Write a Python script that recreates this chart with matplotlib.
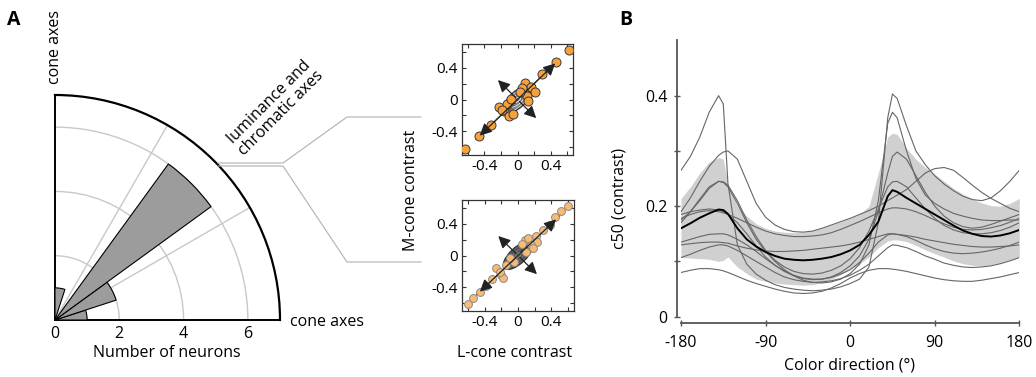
import numpy as np
import matplotlib
matplotlib.use('Agg')
import matplotlib.pyplot as plt
from matplotlib.lines import Line2D
from matplotlib.patches import Ellipse

plt.rcParams['font.family'] = ['Open Sans', 'DejaVu Sans']
plt.rcParams['axes.unicode_minus'] = False

W, H = 1036, 377

# polar histogram: preferred direction of neurons (18 deg bins)
bin_centers = [9, 27, 45, 63, 81]
neuron_counts = [1, 2, 6, 0, 1]
r_ticks = [0, 2, 4, 6]

# scatter insets (L-cone, M-cone contrast)
l_top = [0.62, 0.46, 0.30, 0.09, 0.16, 0.21, -0.22, -0.16, -0.10, -0.05, -0.32, -0.47, -0.63,
         0.05, 0.12, -0.13, 0.13, -0.19, -0.08, 0.03]
m_top = [0.63, 0.47, 0.32, 0.21, 0.16, 0.10, -0.09, -0.15, -0.21, -0.18, -0.32, -0.46, -0.63,
         0.15, 0.05, -0.06, -0.02, -0.13, 0.01, 0.10]
l_bot = [0.60, 0.52, 0.44, 0.38, 0.30, 0.22, 0.23, 0.15, 0.08, -0.20, -0.18, -0.26, -0.31, -0.38,
         -0.46, -0.54, -0.60, 0.12, -0.14, -0.22, 0.05, -0.05, 0.18, -0.10, 0.10]
m_bot = [0.63, 0.56, 0.48, 0.39, 0.32, 0.24, 0.17, 0.13, 0.20, -0.24, -0.29, -0.16, -0.30, -0.38,
         -0.46, -0.53, -0.61, 0.22, -0.12, -0.21, 0.15, -0.08, 0.10, -0.03, 0.05]

# panel B: c50 vs color direction
direction = [-180, -170, -160, -150, -140, -135, -130, -120, -110, -100, -90, -80, -70, -60, -50,
             -40, -30, -20, -10, 0, 10, 20, 30, 40, 45, 50, 60, 70, 80, 90, 100, 110, 120, 130,
             140, 150, 160, 170, 180]
c50_mean = [.160, .169, .179, .187, .194, .193, .186, .160, .140, .127, .117, .110, .105, .103, .102,
            .103, .105, .108, .113, .120, .130, .148, .172, .218, .229, .226, .215, .205, .195, .185,
            .175, .165, .156, .150, .146, .145, .147, .151, .157]
c50_upper = [.214, .235, .260, .280, .288, .285, .240, .200, .182, .168, .160, .155, .153, .152, .153,
             .156, .160, .166, .172, .178, .185, .200, .260, .325, .332, .330, .305, .285, .270, .258,
             .245, .232, .222, .213, .206, .201, .200, .205, .214]
c50_lower = [.107, .106, .105, .104, .100, .102, .108, .090, .078, .068, .064, .061, .059, .058, .057,
             .058, .062, .068, .076, .086, .096, .108, .125, .137, .139, .139, .136, .129, .121, .114,
             .108, .101, .096, .093, .092, .094, .098, .103, .108]
c50_cells = [
    [.265, .290, .325, .370, .400, .385, .240, .130, .095, .077, .066, .058, .053, .050, .048,
     .047, .048, .050, .054, .060, .068, .090, .170, .360, .403, .395, .345, .300, .275, .255,
     .240, .228, .218, .212, .210, .215, .228, .245, .265],
    [.190, .215, .245, .272, .292, .298, .300, .285, .245, .205, .180, .166, .158, .154, .153,
     .155, .160, .166, .172, .178, .185, .192, .200, .210, .215, .220, .230, .245, .260, .268,
     .270, .265, .252, .238, .225, .214, .205, .196, .190],
    [.175, .190, .210, .232, .245, .243, .235, .205, .170, .140, .118, .100, .085, .074, .066,
     .062, .061, .063, .068, .078, .095, .130, .210, .350, .370, .360, .300, .250, .220, .205,
     .195, .187, .182, .178, .175, .174, .174, .175, .175],
    [.185, .190, .193, .195, .193, .190, .185, .170, .150, .128, .108, .093, .082, .074, .069,
     .067, .068, .072, .080, .092, .110, .140, .190, .260, .290, .298, .285, .255, .225, .200,
     .182, .170, .163, .160, .162, .167, .173, .179, .185],
    [.170, .190, .213, .235, .245, .244, .238, .210, .175, .145, .120, .102, .090, .082, .078,
     .077, .079, .084, .092, .105, .125, .155, .195, .235, .244, .245, .235, .215, .195, .178,
     .165, .157, .152, .150, .150, .152, .156, .162, .170],
    [.135, .140, .145, .149, .150, .150, .148, .140, .130, .118, .105, .093, .083, .075, .070,
     .068, .068, .071, .077, .085, .098, .115, .135, .148, .150, .149, .145, .138, .130, .123,
     .118, .115, .114, .115, .117, .120, .124, .129, .135],
    [.178, .185, .190, .192, .190, .188, .185, .178, .170, .162, .155, .150, .147, .145, .145,
     .146, .148, .152, .158, .165, .172, .180, .188, .195, .197, .197, .195, .190, .183, .175,
     .168, .162, .158, .157, .158, .161, .165, .171, .178],
    [.130, .132, .134, .135, .135, .134, .133, .128, .124, .121, .119, .118, .118, .119, .120,
     .122, .124, .126, .128, .131, .135, .140, .145, .150, .150, .149, .147, .144, .140, .137,
     .134, .131, .129, .127, .126, .126, .127, .128, .130],
    [.107, .113, .120, .126, .130, .130, .128, .120, .110, .100, .090, .080, .072, .067, .064,
     .062, .063, .065, .069, .075, .084, .095, .110, .125, .130, .129, .125, .118, .110, .104,
     .097, .093, .090, .089, .090, .092, .096, .101, .107],
    [.080, .084, .087, .087, .085, .083, .080, .073, .066, .060, .055, .050, .046, .043, .042,
     .043, .046, .052, .060, .070, .078, .084, .087, .087, .086, .085, .082, .078, .074, .070,
     .067, .065, .064, .064, .066, .069, .072, .076, .080],
]

fig = plt.figure(figsize=(W / 100, H / 100), dpi=100)


def box(x0, y0, x1, y1):
    # pixel box (top-left origin) -> figure fraction rect
    return [x0 / W, 1 - y1 / H, (x1 - x0) / W, (y1 - y0) / H]


fs = 11.5
fs_tick = 11

# ---------- panel A: polar histogram ----------
axp = fig.add_axes(box(55, 95, 280, 320), projection='polar')
axp.set_thetamin(0)
axp.set_thetamax(90)
axp.set_rlim(0, 7)
axp.set_rticks([2, 4, 6])
axp.set_yticklabels([])
axp.set_thetagrids([30, 60], labels=['', ''])
axp.grid(True, color='#c8c8c8', lw=1.0)
axp.set_axisbelow(True)
axp.bar(np.deg2rad(bin_centers), neuron_counts, width=np.deg2rad(18), bottom=0,
        color='#9c9c9c', edgecolor='black', lw=0.8, zorder=3)
axp.spines['polar'].set_linewidth(1.6)
axp.spines['start'].set_linewidth(1.4)
axp.spines['end'].set_linewidth(1.4)
axp.tick_params(length=0, pad=0)
for r in r_ticks:
    axp.annotate(str(r), xy=(0, r), xytext=(0, -4), textcoords='offset points',
                 ha='center', va='top', fontsize=fs, annotation_clip=False)

fig.text(167 / W, 1 - 353 / H, 'Number of neurons', ha='center', va='center', fontsize=fs)
fig.text(290 / W, 1 - 322 / H, 'cone axes', ha='left', va='center', fontsize=fs)
fig.text(55 / W, 1 - 47 / H, 'cone axes', ha='center', va='center', rotation=90, fontsize=fs)
fig.text(275 / W, 1 - 108 / H, 'luminance and\nchromatic axes', ha='center', va='center',
         rotation=45, fontsize=fs, linespacing=1.0)
fig.text(14 / W, 1 - 20 / H, 'A', ha='center', va='center', fontsize=14, fontweight='bold')
fig.text(626 / W, 1 - 20 / H, 'B', ha='center', va='center', fontsize=14, fontweight='bold')

# connector lines from polar plot to insets
conn = '#b0b0b0'
fig.add_artist(Line2D([218 / W, 283 / W, 347 / W, 421 / W],
                      [1 - 163 / H, 1 - 163 / H, 1 - 117 / H, 1 - 117 / H], color=conn, lw=0.8))
fig.add_artist(Line2D([218 / W, 283 / W, 347 / W, 421 / W],
                      [1 - 166 / H, 1 - 166 / H, 1 - 262 / H, 1 - 262 / H], color=conn, lw=0.8))


# ---------- scatter insets ----------
def inset(rect, lx, my, face, edge, size, fill_col, ring_cols):
    ax = fig.add_axes(rect)
    ax.plot([-0.5, 0.5], [-0.5, 0.5], color='#333333', lw=0.8, zorder=1)
    ax.add_patch(Ellipse((0, 0), 0.46, 0.20, angle=45, fc=fill_col, ec='#333333', lw=0.8, zorder=2))
    for a, b, c in zip([0.39, 0.32, 0.25, 0.18, 0.10],
                       [0.165, 0.135, 0.105, 0.075, 0.045], ring_cols):
        ax.add_patch(Ellipse((0, 0), a, b, angle=45, fill=False, ec=c, lw=0.8, zorder=2))
    ax.scatter(lx, my, s=size, c=face, edgecolors=edge, linewidths=0.7, zorder=3)
    arr = dict(arrowstyle='-|>,head_length=0.6,head_width=0.3', color='#222222', lw=0.9,
               mutation_scale=12)
    for tip in [(0.48, 0.48), (-0.48, -0.48), (-0.26, 0.27), (0.25, -0.26)]:
        ax.annotate('', xy=tip, xytext=(0, 0), arrowprops=arr, zorder=4)
    ax.set_xlim(-0.67, 0.67)
    ax.set_ylim(-0.70, 0.70)
    ticks = [-0.6, -0.4, -0.2, 0, 0.2, 0.4, 0.6]
    labs = ['', '-0.4', '', '0', '', '0.4', '']
    ax.set_xticks(ticks)
    ax.set_yticks(ticks)
    ax.set_xticklabels(labs)
    ax.set_yticklabels(labs)
    ax.tick_params(direction='in', length=3, width=0.8, top=True, right=True,
                   labelsize=fs_tick, pad=3, color='#333333')
    for s in ax.spines.values():
        s.set_color('#333333')
        s.set_linewidth(0.9)
    return ax


inset(box(462, 44, 573, 155), l_top, m_top, '#f6a13c', '#3a3a3a', 42, '#3c3c3c',
      ['#d8d8d8', '#9a9a9a', '#e6e6e6', '#8c8c8c', '#f0f0f0'])
inset(box(462, 200, 574, 311), l_bot, m_bot, '#f9bb74', '#8a8a8a', 32, '#404040',
      ['#6a6a6a', '#555555', '#7a7a7a', '#5a5a5a', '#888888'])
fig.text(411 / W, 1 - 190 / H, 'M-cone contrast', ha='center', va='center', rotation=90, fontsize=fs)
fig.text(515 / W, 1 - 353 / H, 'L-cone contrast', ha='center', va='center', fontsize=fs)

# ---------- panel B ----------
axb = fig.add_axes(box(681, 40.4, 1019.3, 316.7))
axb.fill_between(direction, c50_lower, c50_upper, color='#d0d0d0', lw=0, zorder=1)
for cell in c50_cells:
    axb.plot(direction, cell, color='#666666', lw=0.8, zorder=2)
axb.plot(direction, c50_mean, color='black', lw=1.4, zorder=3)
axb.set_xlim(-180, 180)
axb.set_ylim(0, 0.5)
axb.set_xticks([-180, -90, 0, 90, 180])
axb.set_yticks([0, 0.1, 0.2, 0.3, 0.4])
axb.set_yticklabels(['0', '', '0.2', '', '0.4'])
axb.spines['top'].set_visible(False)
axb.spines['right'].set_visible(False)
axb.spines['left'].set_position(('outward', 3))
axb.spines['bottom'].set_position(('outward', 4.5))
for s in ['left', 'bottom']:
    axb.spines[s].set_color('#555555')
    axb.spines[s].set_linewidth(1.3)
axb.tick_params(direction='inout', length=5, width=1.0, color='#555555', labelsize=fs)
axb.tick_params(axis='x', pad=6)
axb.tick_params(axis='y', pad=4)
fig.text(620 / W, 1 - 198 / H, 'c50 (contrast)', ha='center', va='center', rotation=90, fontsize=fs)
fig.text(850 / W, 1 - 365 / H, 'Color direction (°)', ha='center', va='center', fontsize=fs)

fig.savefig('out.png', dpi=100)
